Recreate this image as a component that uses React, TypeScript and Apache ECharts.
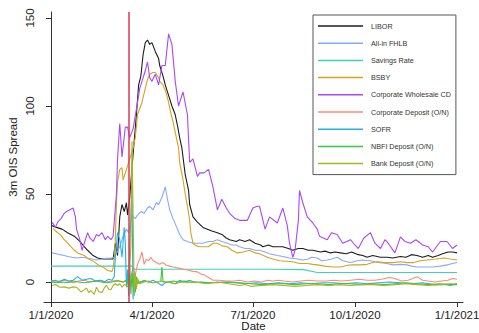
import React, { useEffect, useRef } from "react";
import * as echarts from "echarts";

// x values are days since 1/1/2020
const xTickDays = [0, 91, 182, 274, 366];
const xTickLabels = ["1/1/2020", "4/1/2020", "7/1/2020", "10/1/2020", "1/1/2021"];
const yTicks = [0, 50, 100, 150];
const covidDay = 70; // 3/11/2020

const seriesNames = [
  "LIBOR",
  "All-in FHLB",
  "Savings Rate",
  "BSBY",
  "Corporate Wholesale CD",
  "Corporate Deposit (O/N)",
  "SOFR",
  "NBFI Deposit (O/N)",
  "Bank Deposit (O/N)",
];
const seriesColors = [
  "#1c1c1c",
  "#86a8ff",
  "#3ed2b4",
  "#d8a21c",
  "#a848f8",
  "#ff8878",
  "#22b2e6",
  "#3cc43c",
  "#a8b424",
];

const libor = [
  [1, 32], [5, 31], [10, 30], [15, 28], [21, 26], [26, 23], [30, 20], [33, 18], [38, 15], [42, 13.6],
  [47, 13], [54, 13], [56, 13], [58, 22], [60, 15], [62, 37], [64, 44], [66, 40], [68, 45], [69, 38],
  [71, 48], [73, 65], [75, 80], [77, 95], [79, 112], [81, 117], [83, 129], [85, 136], [87, 137.5], [89, 135],
  [91, 136], [94, 131], [97, 127], [98, 123], [101, 117], [103, 112], [106, 106], [109, 100], [112, 95], [114, 89],
  [116, 82], [118, 76], [121, 61], [124, 52], [125, 44], [128, 37], [132, 34], [137, 31], [141, 30], [145, 29],
  [150, 28], [154, 27], [158, 25], [161, 24], [167, 23], [170, 24], [175, 23], [179, 24], [184, 22], [189, 21],
  [191, 20], [196, 21], [200, 20], [205, 20], [209, 20], [214, 19], [218, 18], [223, 19], [227, 19], [232, 18],
  [236, 18], [243, 17], [247, 17.5], [252, 16.5], [256, 17], [261, 16.5], [266, 16], [271, 17], [277, 15.5], [281, 15],
  [285, 14], [290, 15], [297, 14], [303, 14], [308, 13.6], [315, 14.5], [320, 14], [325, 15.5], [330, 15], [335, 14],
  [340, 15], [344, 14], [349, 15], [353, 16], [358, 17], [362, 17], [366, 16.5],
];

const fhlb = [
  [1, 16.5], [5, 16], [8, 15.5], [12, 15], [15, 14.5], [19, 14], [23, 13.6], [28, 14], [32, 13.6], [37, 13],
  [41, 12.5], [46, 13], [50, 13.5], [54, 13.6], [57, 14], [59, 16], [62, 20], [65, 26], [68, 30], [70, 28],
  [73, 38], [76, 36], [78, 38], [81, 40], [84, 39], [87, 42], [89, 43], [92, 41], [95, 45], [97, 44],
  [100, 48], [103, 54], [105, 47], [107, 41], [110, 36], [114, 30], [116, 27], [119, 24], [123, 23], [128, 22],
  [133, 22], [137, 22], [142, 23], [146, 23], [150, 24], [154, 23], [159, 22], [163, 21], [167, 21], [170, 20],
  [175, 19], [179, 19], [184, 18], [188, 18], [193, 17], [197, 16], [204, 15], [209, 14.5], [215, 13.6], [222, 13],
  [227, 12.5], [232, 13], [235, 14], [240, 13.6], [244, 12], [249, 12.5], [253, 13], [258, 14], [263, 12], [270, 11],
  [276, 12], [281, 12.5], [288, 12], [292, 11.5], [297, 11], [303, 10.5], [308, 9.7], [315, 10], [321, 9.7], [325, 9],
  [330, 8.5], [337, 8.5], [344, 8.5], [351, 9], [357, 9.7], [362, 10.5], [366, 11],
];

const savings = [
  [0, 9], [73, 9], [75, 7.3], [200, 7.2], [228, 7], [240, 5.4], [366, 5.4],
];

const bsby = [
  [2, 30.5], [5, 28.5], [9, 26.5], [12, 24], [15, 22], [18, 20], [21, 18], [24, 16.5], [30, 15], [34, 13],
  [39, 11.4], [43, 9.5], [48, 8], [51, 6.5], [55, 6], [56, 8], [57, 13], [58, 24], [59, 45], [60, 57],
  [62, 64], [64, 65], [65, 58], [67, 62], [69, 66], [71, 70], [74, 76], [76, 82], [78, 95], [82, 102],
  [85, 110], [87, 115], [89, 118], [92, 119], [94, 119], [97, 116], [98, 114], [101, 112], [104, 107], [106, 102],
  [108, 96], [110, 91], [113, 82], [115, 76], [116, 68], [119, 58], [121, 50], [123, 43], [125, 35], [126, 28],
  [128, 22], [131, 20.5], [135, 20], [138, 20], [142, 20], [146, 22], [150, 22], [154, 20.5], [159, 20], [163, 18],
  [168, 16.5], [173, 17], [179, 18], [184, 16.5], [188, 16], [195, 14], [200, 13], [206, 12], [218, 11.5], [224, 10.5],
  [231, 10.5], [236, 10], [240, 9.7], [247, 9], [254, 8.5], [261, 8.5], [267, 9.5], [272, 9.7], [279, 9.7], [285, 10],
  [290, 11], [294, 11.5], [301, 11], [308, 11], [315, 11.5], [321, 11], [327, 11], [333, 12], [339, 12.5], [347, 13],
  [354, 13.6], [360, 13], [366, 12.5],
];

const corpCD = [
  [1, 34], [4, 31], [6, 34], [9, 36], [12, 39], [14, 40], [17, 41], [20, 42], [22, 37], [23, 30],
  [26, 24], [28, 18], [30, 22], [32, 26], [33, 28], [35, 25], [38, 23], [41, 27], [43, 26], [46, 28],
  [49, 24], [51, 26], [54, 24], [56, 26], [59, 50], [60, 70], [62, 90], [64, 71], [67, 88], [69, 88],
  [71, 82], [74, 87], [78, 102], [80, 110], [82, 114], [85, 120], [87, 125], [89, 116], [91, 114], [94, 118],
  [97, 112], [100, 123], [103, 123], [106, 141], [109, 135], [112, 114], [115, 100], [119, 108], [123, 95], [125, 68],
  [128, 70], [132, 60], [134, 62], [138, 62], [142, 64], [146, 54], [150, 41], [154, 47], [158, 42], [161, 39],
  [166, 36], [170, 35], [177, 35], [182, 42], [186, 43], [188, 43], [193, 30], [197, 37], [204, 33.5], [209, 42],
  [213, 32], [215, 22], [218, 14], [220, 18], [223, 35], [224, 52], [227, 45], [231, 37], [236, 33.5], [240, 30],
  [242, 26], [249, 24], [253, 28], [258, 27], [263, 22], [270, 24], [274, 21], [277, 19], [282, 25], [288, 28],
  [292, 22], [297, 19], [301, 24], [304, 22], [310, 16.5], [315, 25.6], [319, 23], [324, 22], [329, 24], [335, 21],
  [340, 20], [344, 17], [351, 23], [357, 23], [362, 19], [366, 21],
];

const corpDep = [
  [0, 0.5], [5, 0], [10, 1], [15, 0.5], [20, -0.5], [25, 0.5], [30, 1], [35, 0], [40, 0.5], [45, 1],
  [50, 0], [55, 0.5], [60, 1], [65, 0], [70, 1], [72, 3], [74, 8], [76, 4], [78, 10], [80, 13],
  [82, 17], [84, 10], [86, 13], [88, 12], [90, 14], [92, 12], [95, 11], [98, 10], [101, 11], [104, 9.5],
  [107, 9], [110, 8.5], [114, 8], [118, 7.5], [123, 6.8], [128, 6], [132, 5.7], [135, 4.5], [138, 4], [142, 2.5],
  [146, 1], [152, 1], [158, 0.5], [165, 0.5], [170, 1], [177, 0], [183, 0.5], [190, 0], [195, 1], [200, 0.5],
  [205, 1], [210, 0.5], [218, 0], [225, 0.5], [232, 1], [240, 0.5], [248, 0.5], [255, 1], [262, 0.5], [270, 1],
  [278, 1.5], [285, 1], [292, 1], [298, 1.5], [305, 2.5], [310, 2], [316, 0.5], [322, 1], [326, 2], [330, 3],
  [335, 1], [340, 0.5], [346, 0], [352, 0.5], [358, 1], [362, 2], [366, 1.5],
];

const sofr = [
  [0, 0.5], [4, 1], [8, 0], [12, 1.5], [16, 0.5], [20, 1], [24, 3], [28, 1], [32, 1.5], [36, 2],
  [40, 0.5], [44, 1], [48, 0], [52, 1.5], [55, 1], [57, 3], [58, 14], [60, 28], [62, 24], [64, 14],
  [66, 31], [67, 22], [68, -3], [69, 7], [70, -8], [71, 20], [73, 55], [74, -10], [75, 5], [76, -2],
  [78, 1], [80, -0.5], [84, 1], [88, 0], [92, 1], [96, -0.5], [100, -2], [104, 0], [108, -0.5], [112, -1],
  [116, 1], [120, 0], [125, 1], [130, -0.5], [135, 0], [145, -0.5], [155, 0], [165, -0.5], [175, -1], [185, -0.5],
  [195, -1], [205, -0.5], [215, -1], [225, -0.5], [235, -1], [245, -0.5], [255, -0.5], [265, -1], [275, -0.5], [285, -1],
  [295, -0.5], [305, 0], [315, -0.5], [325, -1], [335, -0.5], [345, -1.5], [355, -1.5], [360, -2], [366, -1],
];

const nbfi = [
  [0, 0], [5, -0.5], [10, 0], [15, -0.5], [20, 0.5], [25, 0], [30, -0.5], [35, 0], [40, 0.5], [45, 0],
  [50, -0.5], [55, 0], [60, 0.5], [65, 0], [68, 1], [70, -2], [71, 10], [72, -7], [73, 5], [74, -3],
  [75, 4], [76, -6], [77, 3], [78, -1], [80, 0], [84, 0.5], [88, 0], [92, -0.5], [96, 0], [99, 0.5],
  [100, 8.5], [101, 0], [105, 0], [110, 0.5], [115, 0], [120, 0.5], [125, 0], [130, 0], [140, -0.5], [150, -0.5],
  [160, 0], [170, -0.5], [180, -1], [190, -1.5], [200, -1], [210, -1], [220, -1.5], [230, -1], [240, -1], [250, -1.5],
  [260, -1], [270, -1], [280, -1.5], [290, -1], [300, -1.5], [310, -1], [320, -0.5], [330, -1], [340, -1.5], [350, -1],
  [360, -1.5], [366, -1.5],
];

const bankDep = [
  [1, -2], [4, -1.5], [8, -3], [12, -2.8], [16, -3.5], [20, -2.8], [23, -3], [27, -5.7], [30, -4.5], [32, -3.4],
  [34, -6], [36, -5], [39, -7], [41, -3], [43, -5.5], [46, -6], [48, -3.5], [50, -2], [52, -4], [54, -4.5],
  [56, -2], [58, -1], [60, -2], [62, -1], [64, -3], [66, -1.5], [68, -2], [70, -3], [72, 20], [73, 80],
  [74, 40], [75, -8], [76, 5], [77, -4], [78, 2], [80, -1], [84, 0], [88, 0.5], [92, -0.5], [96, 0],
  [100, 0.5], [104, 0], [108, -0.5], [112, -1], [118, 0], [124, -0.5], [130, 0], [140, -1], [150, 0], [160, -1],
  [170, -2], [175, -1.5], [180, -2.5], [190, -2], [200, -1.5], [210, -2], [220, -2.5], [230, -2], [240, -1.5], [250, -2],
  [260, -1.5], [270, -2], [280, -1.5], [290, -1.5], [300, -2], [310, -1.5], [320, -1], [330, -1.5], [340, -2], [350, -1.5],
  [360, -1], [366, -1],
];

const allData = [libor, fhlb, savings, bsby, corpCD, corpDep, sofr, nbfi, bankDep];

const FONT = "'Liberation Sans', Arial, Helvetica, sans-serif";

export default function App() {
  const ref = useRef<HTMLDivElement>(null);
  useEffect(() => {
    if (!ref.current) return;
    const chart = echarts.init(ref.current, undefined, { renderer: "svg" });
    const series: any[] = allData.map((d, i) => ({
      name: seriesNames[i],
      type: "line",
      data: d,
      symbol: "none",
      showSymbol: false,
      lineStyle: { color: seriesColors[i], width: 1.1 },
      itemStyle: { color: seriesColors[i] },
      silent: true,
    }));
    series[series.length - 1].markLine = {
      silent: true,
      symbol: ["none", "none"],
      label: { show: false },
      lineStyle: { color: "#e0355a", width: 1.5, type: "solid" },
      data: [{ xAxis: covidDay }],
    };
    chart.setOption({
      animation: false,
      backgroundColor: "#ffffff",
      grid: { left: 44, right: 16, top: 12, bottom: 31, containLabel: false, outerBoundsMode: "none" },
      legend: {
        orient: "vertical",
        left: 313,
        top: 15,
        padding: [6.5, 5, 6.5, 5],
        itemWidth: 45,
        itemHeight: 1.5,
        itemGap: 8.2,
        icon: "rect",
        backgroundColor: "#ffffff",
        borderColor: "#555555",
        borderWidth: 1,
        textStyle: { fontFamily: FONT, fontSize: 7.2, color: "#333333", padding: [0, 0, 0, 3], lineHeight: 9 },
        data: seriesNames,
      },
      xAxis: {
        type: "value",
        min: -6.3,
        max: 371.4,
        name: "Date",
        nameLocation: "middle",
        nameGap: 18,
        nameMoveOverlap: false,
        nameTextStyle: { fontFamily: FONT, fontSize: 11.5, color: "#222222", lineHeight: 12 },
        axisLine: { show: true, onZero: false, lineStyle: { color: "#333333", width: 1 } },
        axisTick: { show: true, length: 5, customValues: xTickDays, lineStyle: { color: "#333333" } },
        axisLabel: {
          customValues: xTickDays,
          margin: 7,
          fontFamily: FONT,
          fontSize: 11.5,
          color: "#222222",
          formatter: (v: number) => {
            const idx = xTickDays.indexOf(Math.round(v));
            return idx >= 0 ? xTickLabels[idx] : "";
          },
        },
        splitLine: { show: false },
      },
      yAxis: {
        type: "value",
        min: -11.4,
        max: 153.4,
        name: "3m OIS Spread",
        nameLocation: "middle",
        nameGap: 25,
        nameRotate: 90,
        nameMoveOverlap: false,
        nameTextStyle: { fontFamily: FONT, fontSize: 11.5, color: "#222222" },
        axisLine: { show: true, lineStyle: { color: "#333333", width: 1 } },
        axisTick: { show: true, length: 5, customValues: yTicks, lineStyle: { color: "#333333" } },
        axisLabel: {
          customValues: yTicks,
          rotate: 90,
          margin: 8,
          fontFamily: FONT,
          fontSize: 11.5,
          color: "#222222",
        },
        splitLine: { show: false },
      },
      series,
    });
    return () => chart.dispose();
  }, []);
  return (
    <div
      ref={ref}
      style={{ position: "fixed", left: 0, top: 0, width: 479, height: 333, background: "#fff" }}
    />
  );
}
